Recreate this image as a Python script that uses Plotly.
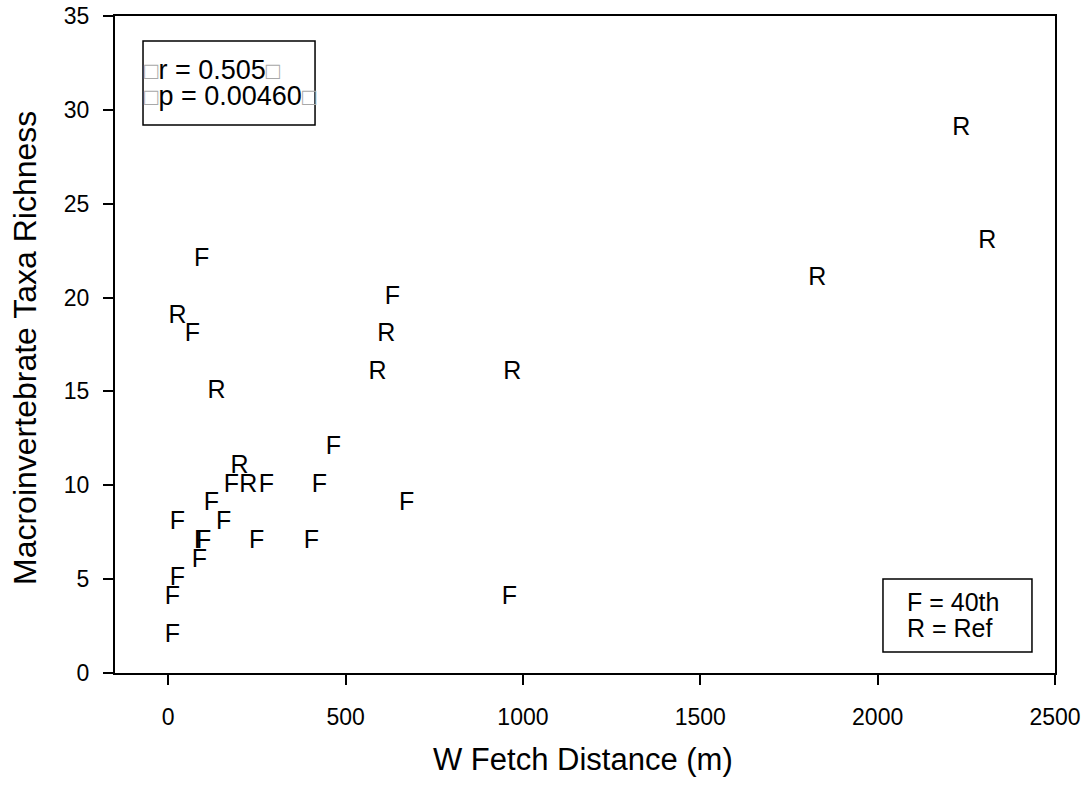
import plotly.graph_objects as go

# Data
f_x = [94, 68, 632, 466, 178, 277, 426, 672, 122, 26, 156, 94, 100, 249, 404, 88, 26, 12, 12, 962]
f_y = [22, 18, 20, 12, 10, 10, 10, 9, 9, 8, 8, 7, 7, 7, 7, 6, 5, 4, 2, 4]
r_x = [2236, 2309, 1830, 26, 615, 590, 970, 136, 201, 226]
r_y = [29, 23, 21, 19, 18, 16, 16, 15, 11, 10]

x_ticks = [0, 500, 1000, 1500, 2000, 2500]
y_ticks = [0, 5, 10, 15, 20, 25, 30, 35]

x_title = "W Fetch Distance (m)"
y_title = "Macroinvertebrate Taxa Richness"
stats_lines = ["r = 0.505", "p = 0.00460"]
legend_lines = ["F = 40th", "R = Ref"]

FONT = "Liberation Sans, Arial, sans-serif"

fig = go.Figure()
fig.add_trace(go.Scatter(x=f_x, y=f_y, mode="text", text=["F"] * len(f_x),
                         textposition="middle center",
                         textfont=dict(family=FONT, size=25, color="black"),
                         name="40th", showlegend=False, hoverinfo="skip"))
fig.add_trace(go.Scatter(x=r_x, y=r_y, mode="text", text=["R"] * len(r_x),
                         textposition="middle center",
                         textfont=dict(family=FONT, size=25, color="black"),
                         name="Ref", showlegend=False, hoverinfo="skip"))

axis_common = dict(showline=True, linecolor="black", linewidth=2, mirror=True,
                   ticks="outside", ticklen=10, tickwidth=1.5, tickcolor="black",
                   showgrid=False, zeroline=False, automargin=False,
                   tickfont=dict(family=FONT, size=23, color="black"))

fig.update_xaxes(range=[-150, 2500], tickvals=x_ticks, ticklabelstandoff=12, **axis_common)
fig.update_yaxes(range=[0, 35], tickvals=y_ticks, ticklabelstandoff=9, **axis_common)

# axis titles
fig.add_annotation(xref="paper", yref="paper", x=0.498, y=-0.1324, xanchor="center", yanchor="middle",
                   showarrow=False, text=x_title, font=dict(family=FONT, size=31, color="black"))
fig.add_annotation(xref="paper", yref="paper", x=-0.0957, y=0.4947, xanchor="center", yanchor="middle",
                   showarrow=False, text=y_title, textangle=-90,
                   font=dict(family=FONT, size=32, color="black"))

sq = '<span style="color:#a8a8a8;font-size:24px">□</span>'
fig.add_shape(type="rect", xref="paper", yref="paper", x0=0.0298, x1=0.2128, y0=0.834, y1=0.962,
              line=dict(color="black", width=1.5), fillcolor="white", layer="below")
for txt, yy in zip(stats_lines, [0.9185, 0.8775]):
    fig.add_annotation(xref="paper", yref="paper", x=0.029, y=yy, xanchor="left", yanchor="middle",
                       align="left", showarrow=False, text=f"{sq}{txt}{sq}",
                       font=dict(family=FONT, size=27, color="black"))

fig.add_shape(type="rect", xref="paper", yref="paper", x0=0.817, x1=0.9755, y0=0.032, y1=0.143,
              line=dict(color="black", width=1.5), fillcolor="white", layer="below")
for txt, yy in zip(legend_lines, [0.1080, 0.0685]):
    fig.add_annotation(xref="paper", yref="paper", x=0.8405, y=yy, xanchor="left", yanchor="middle",
                       align="left", showarrow=False, text=txt,
                       font=dict(family=FONT, size=25, color="black"))

fig.update_layout(width=1086, height=786, plot_bgcolor="white", paper_bgcolor="white",
                  margin=dict(l=115, r=31, t=16, b=113), showlegend=False)

fig.write_html("out.html", config={"displayModeBar": False},
               post_script="document.body.style.margin='0';")
